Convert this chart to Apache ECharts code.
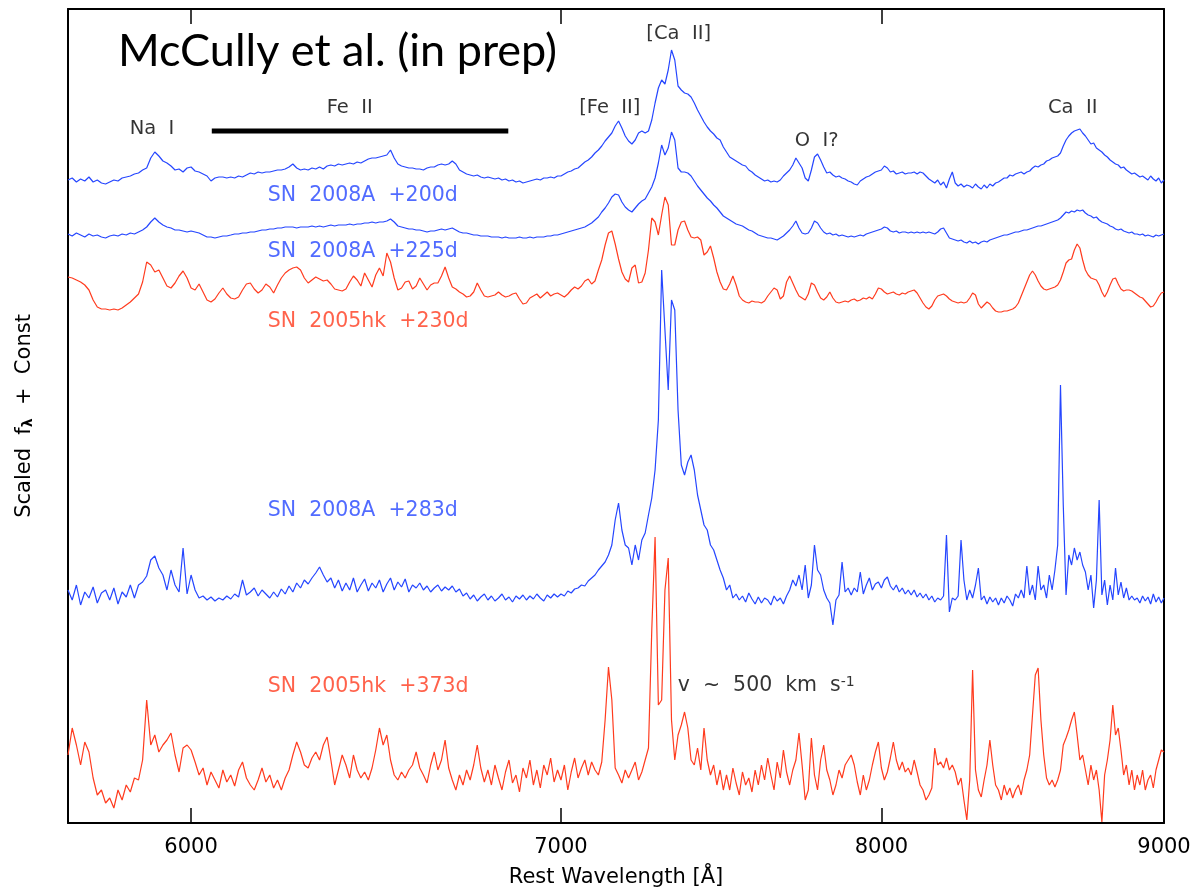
<!DOCTYPE html>
<html><head><meta charset="utf-8">
<script src="https://cdn.jsdelivr.net/npm/echarts@6/dist/echarts.min.js"></script>
<style>html,body{margin:0;padding:0;background:#fff}#c{width:1196px;height:887px}</style>
</head><body><div id="c"></div>
<script>
// Wavelength grid (Angstrom), 10 A bins from 5700 to 9000
const wavelengthStart = 5700, wavelengthStep = 10, wavelengthCount = 331;
const wavelengths = Array.from({length: wavelengthCount}, (_, i) => wavelengthStart + i * wavelengthStep);

// Scaled flux + constant (arbitrary units)
const sn2008A_200d = [643,645,641,644,642,646,641,643,640,639,
641,643,642,645,646,647,649,650,653,655,
665,671,667,662,660,657,653,654,651,655,
656,652,651,649,647,642,645,646,646,645,
646,645,647,646,648,650,649,651,650,651,
651,652,653,653,654,656,659,655,653,654,
653,655,654,656,654,657,658,657,659,658,
659,660,659,661,660,662,664,665,665,666,
667,668,673,665,659,657,656,655,655,654,
654,653,655,656,656,658,659,658,659,662,
659,653,651,649,648,647,648,646,645,646,
645,644,645,643,644,642,643,641,642,640,
641,642,643,644,643,645,645,646,645,647,
647,649,651,652,654,655,658,661,663,666,
670,673,677,682,686,690,697,702,695,687,
682,679,683,690,692,690,692,703,720,735,
743,739,753,773,763,737,733,730,729,726,
720,713,707,701,696,692,689,685,683,676,
671,666,664,662,660,658,657,653,651,648,
646,644,642,643,641,642,641,643,647,650,
653,658,665,660,655,645,642,653,666,669,
663,656,650,651,648,646,647,645,644,642,
641,639,638,642,644,646,647,649,651,652,
653,657,655,651,652,649,650,651,649,650,
650,651,649,651,650,647,644,642,640,643,
638,641,635,644,651,640,637,639,636,638,
637,635,639,636,634,638,635,639,637,640,
641,643,645,645,648,647,649,650,651,649,
651,652,655,657,656,658,659,662,663,665,
666,667,670,677,683,687,690,692,693,694,
690,687,683,679,680,675,673,671,668,666,
663,661,659,658,655,656,653,651,649,650,
648,646,647,645,643,647,644,642,645,640,
643];

const sn2008A_225d = [589,587,590,588,586,589,587,588,586,585,
587,588,587,589,588,590,589,591,593,596,
601,605,601,598,596,595,593,593,592,591,
592,591,590,588,586,586,585,586,587,587,
588,589,589,590,590,591,591,592,593,593,
594,594,595,595,596,596,596,595,596,596,
596,597,596,597,596,597,598,597,598,598,
598,599,598,599,599,600,600,601,600,601,
601,602,604,601,597,596,595,594,594,593,
593,592,591,592,592,593,594,593,594,595,
593,591,590,590,589,588,588,587,587,587,
586,586,586,585,586,585,585,585,586,585,
585,586,585,586,586,586,587,587,588,588,
589,590,591,592,593,594,595,596,598,600,
603,606,611,615,620,626,629,628,621,616,
613,611,615,619,622,624,630,636,645,660,
678,668,675,691,683,655,651,651,650,647,
642,637,633,629,625,622,618,615,611,607,
605,603,601,599,598,597,595,593,592,590,
588,587,586,585,585,584,583,585,587,590,
593,597,602,595,590,589,590,595,602,600,
595,591,589,590,588,589,587,588,587,586,
587,586,587,588,587,589,590,591,592,593,
594,596,595,592,591,592,590,591,591,590,
591,590,591,590,591,590,591,590,589,591,
594,595,590,585,584,583,582,583,581,580,
582,580,581,579,581,582,581,583,584,585,
586,587,588,588,589,590,591,591,592,593,
593,594,595,596,597,597,598,599,600,601,
602,603,605,608,611,610,612,611,613,612,
613,610,608,607,605,606,603,601,600,599,
597,596,594,593,594,592,591,590,591,589,
589,588,589,587,588,587,586,588,587,588,
589];

const sn2005hk_230d = [546,545,543,541,538,533,523,516,514,514,
513,514,513,515,518,521,525,529,541,561,
558,551,553,545,537,535,540,547,552,545,
535,533,539,531,523,521,524,530,535,529,
525,524,526,533,539,540,534,530,533,539,
536,530,538,545,550,553,555,556,553,545,
540,543,546,544,542,543,539,534,533,532,
534,541,547,543,537,550,543,536,548,555,
547,570,561,545,533,535,541,542,534,537,
545,539,533,538,540,540,547,556,545,536,
534,531,529,526,527,531,540,533,527,526,
527,528,531,528,526,527,529,530,524,519,
520,525,527,529,525,528,531,527,529,530,
528,526,529,533,536,534,537,542,544,539,
542,553,563,578,590,592,579,564,551,544,
541,555,558,540,541,550,573,605,601,588,
608,626,618,578,578,593,601,602,593,586,
585,586,583,568,571,577,565,551,541,534,
533,539,547,538,527,523,521,520,522,521,
521,520,522,527,531,535,533,524,527,541,
547,540,533,527,525,523,529,540,538,531,
525,523,526,531,525,521,520,521,522,521,
523,524,522,523,525,524,526,524,529,535,
534,531,529,530,531,529,528,530,529,531,
532,533,530,525,520,516,514,517,523,527,
528,529,527,524,522,521,520,521,520,521,
525,530,528,519,515,518,521,519,515,512,
511,511,512,512,513,514,516,520,527,534,
541,548,552,548,542,537,534,533,534,535,
536,538,543,551,560,563,564,573,579,575,
563,553,548,545,544,543,538,531,526,531,
538,544,545,539,534,532,533,533,532,530,
528,526,525,522,519,516,517,521,526,530,
531];

const sn2008A_283d = [233,223,238,218,231,225,236,220,230,233,
223,235,219,231,226,238,225,238,241,247,
263,267,255,248,233,253,238,231,275,229,
248,233,225,227,223,226,222,225,223,227,
224,229,226,243,228,231,235,227,233,229,
225,231,226,234,229,237,231,240,235,243,
239,245,250,256,248,241,245,235,243,232,
240,233,245,231,238,244,232,240,235,243,
231,239,245,233,241,236,244,231,238,235,
240,233,237,231,235,238,232,236,233,237,
231,234,227,230,224,228,222,226,229,223,
227,222,225,229,223,226,221,227,224,228,
223,227,224,229,225,222,228,225,229,226,
229,227,232,230,234,235,238,237,242,245,
248,253,257,261,268,278,303,320,293,278,
275,258,278,263,283,290,308,325,353,403,
553,493,433,523,513,413,358,348,361,368,
353,328,313,298,293,278,273,263,253,245,
233,238,225,229,223,227,221,230,224,219,
226,220,225,223,218,227,222,225,219,227,
233,243,237,248,233,258,225,238,278,253,
248,233,225,220,198,223,228,261,231,235,
228,235,231,251,229,238,245,233,239,241,
235,243,246,237,233,238,231,235,229,233,
228,233,226,230,225,229,223,227,221,225,
223,227,288,211,225,223,227,283,243,223,
233,225,238,255,223,227,219,226,221,225,
218,225,220,227,223,217,229,225,233,225,
257,228,238,223,257,233,238,225,248,233,
253,278,438,318,228,268,258,275,263,271,
258,251,233,248,215,243,323,228,243,218,
238,223,255,228,241,225,235,223,227,223,
225,220,227,222,226,219,229,221,226,220,
225];

const sn2005hk_373d = [68,95,78,58,81,71,45,28,33,20,
25,15,33,23,38,31,45,43,63,123,
78,88,71,78,83,90,68,51,75,78,
73,61,48,55,38,51,43,35,53,41,
48,37,53,61,45,38,33,43,55,41,
48,35,43,33,45,53,68,81,71,58,
55,65,71,63,78,86,63,38,53,68,
58,45,68,53,45,51,43,55,73,95,
78,88,63,48,43,51,45,53,58,71,
55,48,40,58,71,53,63,83,55,43,
33,48,38,53,43,58,78,55,41,53,
38,58,45,33,51,63,40,48,31,55,
45,63,38,53,35,58,48,65,41,53,
43,58,33,51,65,45,55,63,48,61,
53,48,61,103,156,123,55,48,40,53,
45,53,61,43,51,63,75,193,286,118,
123,233,265,103,63,88,98,111,95,63,
58,75,53,95,63,48,58,38,53,33,
48,33,55,40,28,51,38,45,31,53,
38,58,43,65,48,33,61,45,73,51,
38,53,63,90,58,23,33,85,48,33,
63,78,53,43,28,38,53,45,58,63,
68,58,41,28,48,33,43,58,71,81,
55,43,51,65,81,63,53,61,51,55,
48,63,51,38,33,23,28,35,75,58,
61,55,65,53,58,51,38,45,23,3,
43,153,53,33,26,43,58,83,58,38,
33,23,38,28,35,25,33,38,28,43,
53,68,108,148,155,103,68,45,38,43,
36,43,53,78,85,93,103,111,88,63,
68,53,38,58,43,53,33,1,48,63,
83,118,88,95,73,48,58,38,53,33,
48,38,53,33,43,48,35,53,63,73,
71];

const seriesNames = ['SN 2008A +200d', 'SN 2008A +225d', 'SN 2005hk +230d', 'SN 2008A +283d', 'SN 2005hk +373d'];
const seriesValues = [sn2008A_200d, sn2008A_225d, sn2005hk_230d, sn2008A_283d, sn2005hk_373d];
const seriesIsBlue = [true, true, false, true, false];

// Spectrum labels: anchor wavelength and flux level
const spectrumLabelWavelength = 6195;
const spectrumLabelLevels = [627, 571, 501, 312, 136];

// Line identifications
const lineIdTexts = ['Na  I', 'Fe  II', '[Fe  II]', '[Ca  II]', 'O  I?', 'Ca  II'];
const lineIdWavelengths = [5903, 6410, 7144, 7352, 7787, 8664];
const lineIdLevels = [694, 715, 715, 789, 682, 715];

// Fe II blend bar
const feBarWavelengths = [6052, 6848];
const feBarLevel = 692;

// Velocity note
const velocityNoteWavelength = 7349;
const velocityNoteLevel = 137;

const tickWavelengths = [6000, 7000, 8000, 9000];
const xMin = 5700, xMax = 9000, yMin = 0, yMax = 814;

const BLUE = '#2546ff', RED = '#ff3b1e';
const FONT = 'DejaVu Sans';

const chart = echarts.init(document.getElementById('c'), null, {renderer: 'canvas'});

const spectraSeries = seriesValues.map((vals, k) => ({
  name: seriesNames[k],
  type: 'line',
  data: wavelengths.map((w, i) => [w, vals[i]]),
  showSymbol: false,
  symbol: 'none',
  lineStyle: {color: seriesIsBlue[k] ? BLUE : RED, width: 1.2},
  itemStyle: {color: seriesIsBlue[k] ? BLUE : RED},
  animation: false,
  silent: true,
  z: 2
}));

const plainLabel = {textBorderWidth: 0, textBorderColor: 'transparent', textShadowBlur: 0, fontFamily: FONT};
const labelData = [];
seriesNames.forEach((n, k) => {
  labelData.push({
    value: [spectrumLabelWavelength, spectrumLabelLevels[k]],
    label: Object.assign({formatter: n.replace(/ /g, '  '), color: seriesIsBlue[k] ? BLUE : RED, fontSize: 20.5, position: 'right', distance: 0}, plainLabel)
  });
});
lineIdTexts.forEach((t, k) => {
  labelData.push({
    value: [lineIdWavelengths[k], lineIdLevels[k]],
    label: Object.assign({formatter: t, color: '#000', fontSize: 19.5, position: 'inside'}, plainLabel)
  });
});
labelData.push({
  value: [velocityNoteWavelength, velocityNoteLevel],
  label: Object.assign({formatter: 'v  ~  500  km  s{sup|-1}', color: '#000', fontSize: 20.5, position: 'right', distance: 0,
    rich: {sup: {fontSize: 14, verticalAlign: 'top', lineHeight: 13, color: '#000', fontFamily: FONT}}}, plainLabel)
});

const axisCommon = {
  type: 'log', logBase: 10, min: xMin, max: xMax,
  axisLine: {show: true, onZero: false, lineStyle: {color: '#000', width: 2}},
  axisTick: {show: true, inside: true, length: 15, customValues: tickWavelengths, lineStyle: {color: '#000', width: 1.5}},
  splitLine: {show: false},
  minorTick: {show: false}
};

chart.setOption({
  animation: false,
  backgroundColor: '#fff',
  textStyle: {fontFamily: FONT},
  title: {
    text: 'McCully et al. (in prep)', left: 113, top: 24,
    textStyle: {fontFamily: 'Lato', fontSize: 45, fontWeight: 'normal', color: '#000'}
  },
  grid: {left: 68, right: 32, top: 9, bottom: 64, containLabel: false, outerBoundsMode: 'none'},
  xAxis: [
    Object.assign({}, axisCommon, {
      position: 'bottom',
      name: 'Rest Wavelength [Å]', nameLocation: 'middle', nameGap: 44,
      nameTextStyle: {fontFamily: FONT, fontSize: 21, color: '#000'},
      axisLabel: {show: true, customValues: tickWavelengths, margin: 14, fontSize: 21, color: '#000', fontFamily: FONT,
        formatter: v => String(Math.round(v))}
    }),
    Object.assign({}, axisCommon, {position: 'top', axisLabel: {show: false}})
  ],
  yAxis: [
    {type: 'value', min: yMin, max: yMax, position: 'left',
     axisLine: {show: true, lineStyle: {color: '#000', width: 2}},
     axisTick: {show: false}, axisLabel: {show: false}, splitLine: {show: false},
     name: 'Scaled  f{sub|λ}  +  Const', nameLocation: 'middle', nameGap: 33, nameRotate: 90,
     nameTextStyle: {fontFamily: FONT, fontSize: 21, color: '#000',
       rich: {sub: {fontFamily: FONT, fontSize: 14, fontWeight: 'bold', verticalAlign: 'bottom', color: '#000'}}}},
    {type: 'value', min: yMin, max: yMax, position: 'right',
     axisLine: {show: true, lineStyle: {color: '#000', width: 2}},
     axisTick: {show: false}, axisLabel: {show: false}, splitLine: {show: false}}
  ],
  series: spectraSeries.concat([
    {
      name: 'Fe II blend', type: 'line', data: feBarWavelengths.map(w => [w, feBarLevel]),
      symbol: 'none', lineStyle: {color: '#000', width: 5}, silent: true, z: 3
    },
    {
      name: 'labels', type: 'scatter', data: labelData, symbolSize: 0, silent: true, z: 5,
      label: {show: true, fontFamily: FONT}
    }
  ])
});
</script>
</body></html>
